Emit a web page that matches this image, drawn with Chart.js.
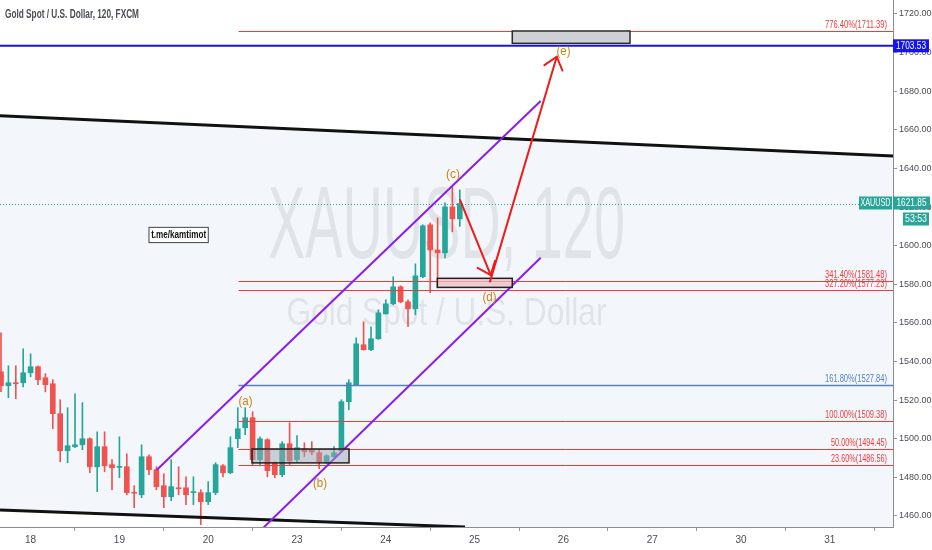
<!DOCTYPE html>
<html>
<head>
<meta charset="utf-8">
<script src="https://cdn.jsdelivr.net/npm/chart.js@4.4.1/dist/chart.umd.min.js"></script>
<style>
html,body{margin:0;padding:0;background:#ffffff;}
#wrap{width:932px;height:550px;}
</style>
</head>
<body>
<div id="wrap"><canvas id="c" width="932" height="550"></canvas></div>
<script>
// ---- data ----
const opens  = [1534.7,1527.5,1529.0,1529.0,1534.2,1537.3,1531.6,1528.5,1513.0,1493.8,1495.9,1496.9,1500.0,1485.5,1495.9,1486.6,1485.2,1485.5,1472.3,1471.0,1490.7,1484.0,1475.7,1470.0,1474.6,1474.6,1472.1,1472.1,1467.4,1472.1,1486.0,1482.4,1500.0,1505.7,1510.9,1489.2,1499.5,1487.6,1481.4,1497.4,1489.2,1494.8,1494.3,1492.8,1487.6,1490.7,1493.8,1519.2,1528.0,1548.7,1546.1,1551.8,1564.7,1569.9,1578.7,1570.9,1567.3,1583.9,1610.8,1597.8,1596.3,1620.1,1613.9];
const highs  = [1554.9,1537.8,1537.8,1546.6,1544.0,1537.8,1533.7,1530.6,1520.2,1516.1,1523.3,1518.7,1500.5,1503.6,1503.6,1489.2,1501.0,1492.2,1475.7,1496.9,1491.7,1485.5,1481.9,1489.2,1485.5,1480.3,1480.3,1473.6,1477.8,1487.6,1486.6,1501.0,1516.1,1516.1,1514.0,1501.0,1500.0,1488.1,1498.5,1508.3,1501.6,1497.9,1498.5,1494.3,1491.7,1495.9,1520.2,1530.6,1552.3,1560.6,1558.0,1566.8,1572.0,1583.9,1579.2,1572.0,1590.6,1610.8,1611.8,1614.4,1622.2,1630.5,1628.9];
const lows   = [1524.4,1521.2,1520.7,1526.9,1532.1,1528.0,1524.3,1505.2,1488.1,1487.6,1495.4,1494.3,1482.4,1472.6,1482.9,1473.6,1479.8,1471.0,1464.3,1469.5,1481.4,1473.6,1464.3,1467.9,1471.0,1465.9,1465.9,1455.5,1465.9,1471.0,1480.3,1481.9,1495.4,1502.1,1486.6,1486.0,1480.3,1479.8,1480.3,1486.6,1488.1,1490.7,1491.7,1484.5,1487.1,1490.2,1493.3,1515.0,1527.5,1545.9,1545.6,1551.5,1564.5,1569.4,1570.4,1558.0,1564.2,1583.4,1575.6,1578.2,1593.7,1607.2,1610.0];
const closes = [1527.5,1529.0,1528.5,1534.2,1537.3,1530.6,1528.0,1513.0,1493.8,1496.4,1496.9,1500.0,1485.5,1495.9,1486.0,1485.0,1485.7,1472.1,1471.8,1490.7,1484.0,1475.2,1470.0,1475.2,1474.1,1471.0,1472.6,1467.4,1472.1,1486.6,1482.4,1495.4,1505.2,1510.9,1489.2,1500.0,1483.5,1481.4,1497.4,1488.6,1495.4,1493.3,1493.1,1488.1,1491.2,1492.8,1519.2,1529.0,1549.2,1546.1,1551.8,1565.2,1569.9,1578.7,1570.9,1567.3,1584.4,1610.3,1597.8,1596.3,1620.1,1613.9,1621.85];

const dayTickPos = [4,16,28,40,52,64,76,88,100,112];
const dayLabels  = ['18','19','20','23','24','25','26','27','30','31'];
const priceTicks = [1460,1480,1500,1520,1540,1560,1580,1600,1620,1640,1660,1680,1700,1720];

const fibLevels = [1711.39,1581.48,1577.23,1527.84,1509.38,1494.45,1486.56];
const fibLabels = ['776.40%(1711.39)','341.40%(1581.48)','327.20%(1577.23)','161.80%(1527.84)','100.00%(1509.38)','50.00%(1494.45)','23.60%(1486.56)'];
const fibStart = 32.1;

const lastPrice = 1621.85;
const markLevel = 1703.53;

const waveLabels = ['(a)','(b)','(c)','(d)','(e)'];
const waveX = [33.04,43.1,61.08,66.01,76.01];
const waveY = [1519.3,1476.6,1636.6,1572.9,1700.3];

// ---- build candle datasets ----
const GREEN = '#26a69a', RED = '#ef5350';
const idx = opens.map((_, i) => i);
const colors = idx.map(i => closes[i] >= opens[i] ? GREEN : RED);
const bodies = idx.map(i => ({x: i, y: [Math.min(opens[i], closes[i]), Math.max(opens[i], closes[i])]}));
const wicks  = idx.map(i => ({x: i, y: [lows[i], highs[i]]}));

const FONT = "'Liberation Sans Narrow','Liberation Sans',Arial,sans-serif";

const drawPlugin = {
  id: 'tvDraw',
  beforeDatasetsDraw(chart) {
    const {ctx, chartArea: a, scales: {x, y}} = chart;
    const X = v => x.getPixelForValue(v), Y = v => y.getPixelForValue(v);
    ctx.save();
    ctx.beginPath(); ctx.rect(a.left, a.top, a.right - a.left, a.bottom - a.top); ctx.clip();
    // channel shading between the black lines
    ctx.fillStyle = 'rgba(205,222,240,0.24)';
    ctx.beginPath();
    ctx.moveTo(X(-0.135), Y(1667.3));
    ctx.lineTo(X(120.54), Y(1646.5));
    ctx.lineTo(X(120.54), Y(1446.2));
    ctx.lineTo(X(-0.135), Y(1463.1));
    ctx.closePath(); ctx.fill();
    // watermark
    const cx = (a.left + a.right) / 2;
    ctx.fillStyle = 'rgba(140,144,156,0.18)';
    ctx.textAlign = 'center'; ctx.textBaseline = 'alphabetic';
    ctx.font = "102px 'Liberation Sans',Arial,sans-serif";
    ctx.fillText('XAUUSD, 120', cx, 258, 357);
    ctx.font = "39px 'Liberation Sans',Arial,sans-serif";
    ctx.fillText('Gold Spot / U.S. Dollar', cx, 325, 320);
    // last price dotted line
    ctx.strokeStyle = GREEN; ctx.lineWidth = 1; ctx.setLineDash([1, 2]);
    ctx.beginPath(); ctx.moveTo(a.left, Math.round(Y(lastPrice)) + 0.5); ctx.lineTo(a.right, Math.round(Y(lastPrice)) + 0.5); ctx.stroke();
    ctx.setLineDash([]);
    ctx.restore();
  },
  afterDatasetsDraw(chart) {
    const {ctx, chartArea: a, scales: {x, y}} = chart;
    const X = v => x.getPixelForValue(v), Y = v => y.getPixelForValue(v);
    const line = (x1, y1, x2, y2, color, w) => {
      ctx.strokeStyle = color; ctx.lineWidth = w;
      ctx.beginPath(); ctx.moveTo(X(x1), Y(y1)); ctx.lineTo(X(x2), Y(y2)); ctx.stroke();
    };
    const box = (x1, y1, x2, y2, fill, stroke, w) => {
      const px = X(x1), py = Y(y1), pw = X(x2) - px, ph = Y(y2) - py;
      ctx.fillStyle = fill; ctx.fillRect(px, py, pw, ph);
      ctx.strokeStyle = stroke; ctx.lineWidth = w; ctx.strokeRect(px, py, pw, ph);
    };
    const arrow = (x1, y1, x2, y2, color) => {
      const ax = X(x1), ay = Y(y1), bx = X(x2), by = Y(y2);
      ctx.strokeStyle = color; ctx.lineWidth = 2; ctx.lineCap = 'round';
      ctx.beginPath(); ctx.moveTo(ax, ay); ctx.lineTo(bx, by); ctx.stroke();
      const ang = Math.atan2(ay - by, ax - bx), L = 15, d = 0.68;
      ctx.beginPath();
      ctx.moveTo(bx + L * Math.cos(ang + d), by + L * Math.sin(ang + d));
      ctx.lineTo(bx, by);
      ctx.lineTo(bx + L * Math.cos(ang - d), by + L * Math.sin(ang - d));
      ctx.stroke();
      ctx.lineCap = 'butt';
    };
    ctx.save();
    ctx.beginPath(); ctx.rect(a.left, a.top, a.right - a.left, a.bottom - a.top); ctx.clip();

    // fib lines + labels
    ctx.textAlign = 'right'; ctx.textBaseline = 'bottom';
    ctx.font = "11px " + FONT;
    fibLevels.forEach((lv, k) => {
      const col = lv === 1527.84 ? '#5a7fbf' : '#ef3b3b';
      const yy = Math.round(Y(lv)) + 0.5;
      ctx.strokeStyle = col; ctx.lineWidth = lv === 1527.84 ? 1.5 : 1;
      ctx.beginPath(); ctx.moveTo(X(fibStart), yy); ctx.lineTo(a.right, yy); ctx.stroke();
      ctx.fillStyle = col;
      ctx.fillText(fibLabels[k], a.right - 6, yy - 1, fibLabels[k].length > 15 ? 62 : 56);
    });

    // blue horizontal line
    ctx.strokeStyle = '#1414ee'; ctx.lineWidth = 2;
    ctx.beginPath(); ctx.moveTo(a.left, Y(markLevel)); ctx.lineTo(a.right, Y(markLevel)); ctx.stroke();

    // black trend lines
    line(-0.135, 1667.3, 120.54, 1646.5, '#111111', 3);
    line(-0.135, 1463.1, 62.7, 1454.3, '#111111', 3);

    // purple channel
    line(21.04, 1483.8, 72.93, 1674.9, '#8a1cf0', 2);
    line(34.73, 1451.2, 72.93, 1593.8, '#8a1cf0', 2);

    // boxes
    box(69.09, 1711.2, 85.0, 1704.8, '#cfd0d5', '#2a2a2a', 1.5);
    box(58.96, 1583.1, 69.09, 1578.4, 'rgba(238,190,195,0.75)', '#222222', 1.5);
    box(33.92, 1494.7, 47.03, 1487.5, 'rgba(160,165,178,0.5)', '#222222', 1.5);

    // arrows
    arrow(62.03, 1623.7, 66.18, 1584.8, '#f01a1a');
    arrow(66.08, 1581.4, 75.1, 1697.9, '#f01a1a');

    // wave labels
    ctx.textAlign = 'center'; ctx.textBaseline = 'middle';
    ctx.font = "12px 'Liberation Sans',Arial,sans-serif";
    ctx.fillStyle = '#c8850f';
    waveLabels.forEach((t, k) => ctx.fillText(t, X(waveX[k]), Y(waveY[k]), 14));

    // t.me label
    box(20.0, 1609.5, 28.01, 1601.6, '#ffffff', '#444444', 1);
    ctx.fillStyle = '#111111'; ctx.font = "bold 10px " + FONT;
    ctx.fillText('t.me/kamtimot', (X(20.0) + X(28.01)) / 2, (Y(1609.5) + Y(1601.6)) / 2 + 0.5, 55);

    // symbol tag for last price
    const ly = Y(lastPrice);
    ctx.fillStyle = GREEN;
    ctx.fillRect(a.right - 34, ly - 7, 33, 13);
    ctx.fillStyle = '#ffffff'; ctx.font = "10px " + FONT;
    ctx.fillText('XAUUSD', a.right - 17.5, ly, 30);
    ctx.restore();

    // title
    ctx.save();
    ctx.textAlign = 'left'; ctx.textBaseline = 'middle';
    ctx.fillStyle = '#4a4d58'; ctx.font = "600 12px " + FONT;
    ctx.fillText('Gold Spot / U.S. Dollar, 120, FXCM', 5, 14.5, 134);
    ctx.restore();
  },
  afterDraw(chart) {
    const {ctx, chartArea: a, scales: {y}} = chart;
    const Y = v => y.getPixelForValue(v);
    ctx.save();
    ctx.textAlign = 'center'; ctx.textBaseline = 'middle';
    ctx.font = "10px " + FONT;
    // blue level tag
    let yy = Y(markLevel);
    ctx.fillStyle = '#1414ee'; ctx.fillRect(a.right, yy - 6.5, 36, 13);
    ctx.fillStyle = '#ffffff'; ctx.fillText('1703.53', a.right + 18, yy + 0.5, 30);
    // last price tag
    yy = Y(lastPrice);
    ctx.fillStyle = GREEN; ctx.fillRect(a.right, yy - 7, 37, 13);
    ctx.fillStyle = '#ffffff'; ctx.fillText('1621.85', a.right + 18.5, yy, 30);
    ctx.fillStyle = GREEN; ctx.fillRect(a.right + 10, yy + 9, 26, 13);
    ctx.fillStyle = '#ffffff'; ctx.fillText('53:53', a.right + 23, yy + 15.5, 22);
    ctx.restore();
  }
};

const zeroPad = s => { s.paddingTop = 0; s.paddingBottom = 0; s.paddingLeft = 0; s.paddingRight = 0; };

new Chart(document.getElementById('c'), {
  type: 'bar',
  data: {
    datasets: [
      {data: bodies, backgroundColor: colors, barThickness: 5, grouped: false, minBarLength: 1, order: 0},
      {data: wicks, backgroundColor: colors, barThickness: 1, grouped: false, minBarLength: 1, order: 1}
    ]
  },
  options: {
    responsive: false,
    animation: false,
    devicePixelRatio: 1,
    layout: {padding: 0},
    plugins: {legend: {display: false}, tooltip: {enabled: false}, title: {display: false}},
    scales: {
      x: {
        type: 'linear', min: -0.135, max: 120.54, offset: false,
        grid: {display: true, drawOnChartArea: false, drawTicks: true, tickLength: 4, color: '#9598a1'},
        border: {display: true, color: '#8a8d96', width: 1},
        afterBuildTicks: s => { s.ticks = dayTickPos.map(v => ({value: v})); },
        afterFit: s => { s.height = 23; zeroPad(s); },
        ticks: {autoSkip: false, maxRotation: 0, padding: 3, color: '#4a4d58',
          font: {size: 10, family: FONT},
          callback: v => dayLabels[dayTickPos.indexOf(v)] ?? ''}
      },
      y: {
        type: 'linear', position: 'right', min: 1454.3, max: 1727.25,
        grid: {display: true, drawOnChartArea: false, drawTicks: true, tickLength: 4, color: '#9598a1'},
        border: {display: true, color: '#8a8d96', width: 1},
        afterBuildTicks: s => { s.ticks = priceTicks.map(v => ({value: v})); },
        afterFit: s => { s.width = 39; zeroPad(s); },
        ticks: {autoSkip: false, padding: 2, color: '#4a4d58',
          font: {size: 9, family: FONT},
          callback: v => Number(v).toFixed(2)}
      }
    }
  },
  plugins: [drawPlugin]
});
</script>
</body>
</html>
